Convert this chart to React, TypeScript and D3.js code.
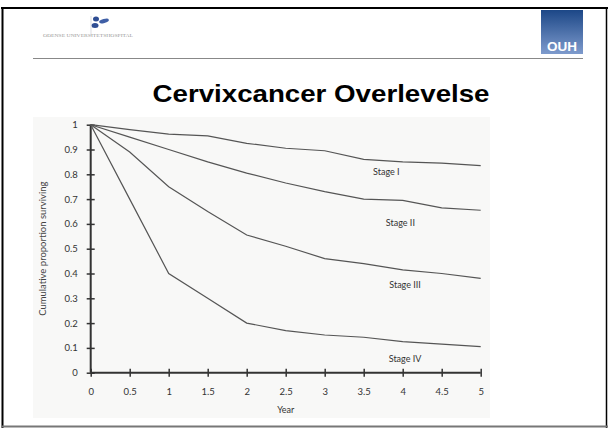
import React, { useEffect, useRef } from "react";
import * as d3 from "d3";

// survival curves
const years = [0, 0.5, 1, 1.5, 2, 2.5, 3, 3.5, 4, 4.5, 5];
const stageI = [1, 0.98, 0.962, 0.955, 0.925, 0.905, 0.895, 0.86, 0.85, 0.845, 0.835];
const stageII = [1, 0.95, 0.9, 0.85, 0.805, 0.765, 0.73, 0.7, 0.695, 0.665, 0.655];
const stageIII = [1, 0.89, 0.75, 0.65, 0.555, 0.51, 0.46, 0.44, 0.415, 0.4, 0.38];
const stageIV = [1, 0.7, 0.4, 0.3, 0.2, 0.17, 0.152, 0.143, 0.125, 0.115, 0.105];
const stageNames = ["Stage I", "Stage II", "Stage III", "Stage IV"];
// label anchors in data units (year, proportion)
const labelYears = [3.79, 3.97, 4.03, 4.03];
const labelValues = [0.797, 0.592, 0.341, 0.043];
const yTicks = [0, 0.1, 0.2, 0.3, 0.4, 0.5, 0.6, 0.7, 0.8, 0.9, 1];
const xTicks = [0, 0.5, 1, 1.5, 2, 2.5, 3, 3.5, 4, 4.5, 5];

function App() {
  const svgRef = useRef<SVGSVGElement>(null);

  useEffect(() => {
    const width = 608;
    const height = 428;
    const svg = d3.select(svgRef.current);
    svg.selectAll("*").remove();

    const defs = svg.append("defs");
    const grad = defs
      .append("linearGradient")
      .attr("id", "ouh")
      .attr("x1", 0).attr("y1", 0).attr("x2", 0).attr("y2", 1);
    grad.append("stop").attr("offset", "0%").attr("stop-color", "#1c4787");
    grad.append("stop").attr("offset", "100%").attr("stop-color", "#7e9bcd");

    // slide background and frame
    svg.append("rect").attr("width", width).attr("height", height).attr("fill", "#fff");
    svg.append("line").attr("x1", 1).attr("x2", width).attr("y1", 8).attr("y2", 8)
      .attr("stroke", "#000").attr("stroke-width", 2);
    svg.append("line").attr("x1", 2.5).attr("x2", 2.5).attr("y1", 7).attr("y2", 428)
      .attr("stroke", "#000").attr("stroke-width", 2);
    svg.append("line").attr("x1", 606.5).attr("x2", 606.5).attr("y1", 7).attr("y2", 428)
      .attr("stroke", "#000").attr("stroke-width", 1.5);
    svg.append("line").attr("x1", 2).attr("x2", width).attr("y1", 426.5).attr("y2", 426.5)
      .attr("stroke", "#777").attr("stroke-width", 2);

    // header: logo, OUH badge, rule
    const logo = svg.append("g");
    logo.append("ellipse").attr("cx", 96).attr("cy", 19).attr("rx", 3).attr("ry", 2.5).attr("fill", "#2e4d93");
    logo.append("ellipse").attr("cx", 104).attr("cy", 21).attr("rx", 5).attr("ry", 2).attr("fill", "#3f5fa6")
      .attr("transform", "rotate(-15 104 21)");
    logo.append("ellipse").attr("cx", 95).attr("cy", 25.5).attr("rx", 3.5).attr("ry", 2.5).attr("fill", "#2e4d93");
    logo.append("line").attr("x1", 91).attr("x2", 91).attr("y1", 16).attr("y2", 36).attr("stroke", "#c8cbd5").attr("stroke-width", 0.7);
    logo.append("text").attr("x", 88).attr("y", 37).attr("text-anchor", "middle")
      .attr("font-family", "Liberation Serif").attr("font-size", 5).attr("fill", "#9a9a9a")
      .attr("textLength", 90).attr("lengthAdjust", "spacingAndGlyphs")
      .text("ODENSE UNIVERSITETSHOSPITAL");

    svg.append("rect").attr("x", 541).attr("y", 10).attr("width", 42).attr("height", 44).attr("fill", "url(#ouh)");
    svg.append("text").attr("x", 562).attr("y", 51).attr("text-anchor", "middle")
      .attr("font-family", "Liberation Sans, Arial").attr("font-weight", "bold").attr("font-size", 13.5)
      .attr("fill", "#fff").text("OUH");
    svg.append("line").attr("x1", 33).attr("x2", 583).attr("y1", 58.5).attr("y2", 58.5)
      .attr("stroke", "#888").attr("stroke-width", 1.2);

    svg.append("text").attr("x", 321).attr("y", 102).attr("text-anchor", "middle")
      .attr("font-family", "Liberation Sans, Arial").attr("font-weight", "bold").attr("font-size", 24)
      .attr("textLength", 337).attr("lengthAdjust", "spacingAndGlyphs")
      .attr("fill", "#000").text("Cervixcancer Overlevelse");

    // scanned figure area
    svg.append("rect").attr("x", 33).attr("y", 117).attr("width", 457).attr("height", 301).attr("fill", "#f8f8f7");

    const xScale = d3.scaleLinear().domain([0, 5]).range([90.7, 480.7]);
    const yScale = d3.scaleLinear().domain([0, 1]).range([372.7, 124.7]);
    const font = "Lato, 'Open Sans', sans-serif";

    const yAxis = svg.append("g").attr("transform", `translate(${xScale(0)},0)`)
      .call(d3.axisLeft(yScale).tickValues(yTicks).tickSize(4).tickPadding(9)
        .tickFormat((d) => d3.format("")(+d)));
    const xAxis = svg.append("g").attr("transform", `translate(0,${yScale(0)})`)
      .call(d3.axisBottom(xScale).tickValues(xTicks).tickSize(4).tickPadding(12)
        .tickFormat((d) => d3.format("")(+d)));

    [yAxis, xAxis].forEach((ax) => {
      ax.select(".domain").attr("stroke", "#333").attr("stroke-width", 2);
      ax.selectAll(".tick line").attr("stroke", "#333").attr("stroke-width", 1.5);
      ax.selectAll(".tick text").attr("font-family", font).attr("font-size", 9.5).attr("fill", "#333");
    });
    // ticks cross the axis on both sides
    yAxis.selectAll(".tick line").attr("x1", 4);
    xAxis.selectAll(".tick line").attr("y1", -4);
    yAxis.select(".domain").attr("d", `M0,${yScale(0)}V${yScale(1)}`);
    xAxis.select(".domain").attr("d", `M${xScale(0)},0H${xScale(5)}`);

    svg.append("text").attr("x", xScale(2.5)).attr("y", 413).attr("text-anchor", "middle")
      .attr("font-family", font).attr("font-size", 9).attr("fill", "#333").text("Year");
    svg.append("text").attr("transform", `translate(46,${yScale(0.5)}) rotate(-90)`)
      .attr("text-anchor", "middle").attr("font-family", font).attr("font-size", 9.5)
      .attr("fill", "#444").text("Cumulative proportion surviving");

    const line = d3.line<number>()
      .x((_, i) => xScale(years[i]))
      .y((d) => yScale(d));

    [stageI, stageII, stageIII, stageIV].forEach((series, i) => {
      svg.append("path").attr("d", line(series))
        .attr("fill", "none").attr("stroke", "#555").attr("stroke-width", 1.2);
      svg.append("text").attr("x", xScale(labelYears[i])).attr("y", yScale(labelValues[i]))
        .attr("text-anchor", "middle").attr("font-family", font).attr("font-size", 9)
        .attr("fill", "#333").text(stageNames[i]);
    });
  }, []);

  return (
    <svg ref={svgRef} width={608} height={428}
      style={{ position: "absolute", left: 0, top: 0, display: "block" }} />
  );
}

export default App;
